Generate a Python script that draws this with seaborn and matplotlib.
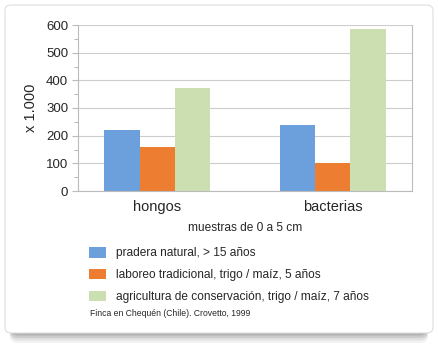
"""Bar chart: microbial counts (hongos / bacterias) under three soil management systems."""
import matplotlib
matplotlib.use('Agg')
import matplotlib.pyplot as plt
from matplotlib.patches import FancyBboxPatch
from matplotlib.ticker import MultipleLocator
import pandas as pd
import seaborn as sns

# Data
groups = ['hongos', 'bacterias']
treatments = [
    'pradera natural, > 15 años',
    'laboreo tradicional, trigo / maíz, 5 años',
    'agricultura de conservación, trigo / maíz, 7 años',
]
pradera = [220, 240]
laboreo = [160, 100]
conservacion = [372, 585]
colors = ['#6CA0DC', '#ED7D31', '#CBDFB1']

rows = []
for t, vals in zip(treatments, [pradera, laboreo, conservacion]):
    for g, v in zip(groups, vals):
        rows.append({'grupo': g, 'tratamiento': t, 'valor': v})
df = pd.DataFrame(rows)

sns.set_style('white')
plt.rcParams['font.family'] = ['Liberation Sans', 'DejaVu Sans']

W, H = 439, 356
fig = plt.figure(figsize=(W / 100, H / 100), dpi=100)
fig.patch.set_facecolor('white')

# card with a soft shadow underneath
for i, a in enumerate([0.05, 0.07, 0.09, 0.12]):
    off = (4 - i) * 2.5
    sh = FancyBboxPatch((10 / W, (H - 333 - off) / H), 418 / W, 300 / H,
                        boxstyle='round,pad=0,rounding_size=0.02',
                        transform=fig.transFigure, facecolor='black',
                        edgecolor='none', alpha=a, zorder=0)
    fig.patches.append(sh)
card = FancyBboxPatch((5 / W, (H - 333) / H), 428 / W, 328 / H,
                      boxstyle='round,pad=0,rounding_size=0.015',
                      transform=fig.transFigure, facecolor='white',
                      edgecolor='#dddddd', linewidth=0.8, zorder=1)
fig.patches.append(card)

ax = fig.add_axes([78 / W, 1 - 191 / H, 334 / W, 166 / H])
ax.set_facecolor('none')
ax.set_zorder(2)

sns.barplot(data=df, x='grupo', y='valor', hue='tratamiento', order=groups,
            hue_order=treatments, palette=colors, width=0.6, saturation=1,
            linewidth=0, ax=ax)

ax.set_xlim(-0.45, 1.45)
ax.set_ylim(0, 600)
ax.yaxis.set_major_locator(MultipleLocator(100))
ax.yaxis.set_minor_locator(MultipleLocator(50))
ax.grid(axis='y', color='#cccccc', linewidth=0.8)
ax.set_axisbelow(True)

for side in ['left', 'bottom', 'right']:
    ax.spines[side].set_color('#bbbbbb')
    ax.spines[side].set_linewidth(0.8)
ax.spines['top'].set_visible(False)

ax.tick_params(axis='y', which='major', left=True, length=4, width=0.8,
               color='#bbbbbb', labelsize=9.5, pad=3)
ax.tick_params(axis='y', which='minor', left=True, length=3, width=0.8,
               color='#bbbbbb')
ax.tick_params(axis='x', bottom=False, labelsize=10.5, pad=3)

ax.set_ylabel('x 1.000', fontsize=10.5, labelpad=6)
ax.set_xlabel('muestras de 0 a 5 cm', fontsize=8.6, labelpad=6)

handles, labels = ax.get_legend_handles_labels()
if ax.get_legend() is not None:
    ax.get_legend().remove()
fig.legend(handles, labels, loc='upper left',
           bbox_to_anchor=(89 / W, 1 - 247 / H), frameon=False,
           fontsize=8.6, handlelength=1.45, handleheight=1.0,
           handletextpad=0.8, labelspacing=0.78, borderpad=0,
           borderaxespad=0)

fig.text(90 / W, 1 - 313 / H, 'Finca en Chequén (Chile). Crovetto, 1999',
         fontsize=6.2, va='center', ha='left', zorder=3)

fig.savefig('out.png', dpi=100)
plt.close(fig)
